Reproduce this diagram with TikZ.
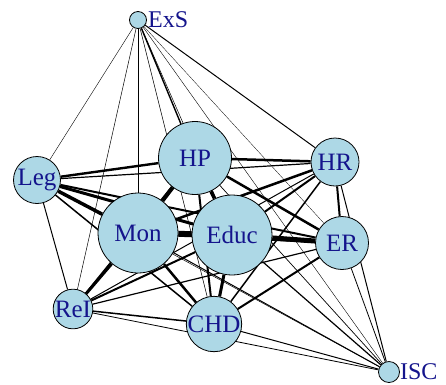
\documentclass[tikz,border=0pt]{standalone}
\usepackage{fontspec}
\setmainfont{Liberation Serif}
\usetikzlibrary{positioning,backgrounds}
\definecolor{nodefill}{RGB}{173,216,230}
\definecolor{labelblue}{RGB}{20,20,140}

\begin{document}
\begin{tikzpicture}[x=1pt, y=-1pt,
    vert/.style={circle, draw, line width=0.8pt, fill=nodefill, inner sep=0pt,
      text=labelblue, font=\fontsize{25}{25}\selectfont},
    lab/.style={inner sep=0pt, text=labelblue, font=\fontsize{24}{24}\selectfont}]

    \useasboundingbox (0,0) rectangle (446,384);

    % small vertices with outside labels
    \node[vert, minimum size=17pt] (exs) at (138,20) {};
    \node[lab, right=1pt of exs] (exslab) {ExS};
    \node[vert, minimum size=21pt] (isc) at (389,372) {};
    \node[lab, right=0pt of isc] (isclab) {ISC};

    % outer ring
    \node[vert, minimum size=47pt] (leg) at (37,180) {Leg};
    \node[vert, minimum size=48pt] (hr) at (335,162) {HR};
    \node[vert, minimum size=53pt] (er) at (342,243) {ER};
    \node[vert, minimum size=38pt] (rei) at (73,309) {ReI};
    \node[vert, minimum size=54pt] (chd) at (214,324) {CHD};

    % core
    \node[vert, minimum size=73pt] (hp) at (195,158) {HP};
    \node[vert, minimum size=80pt] (mon) at (138,233) {Mon};
    \node[vert, minimum size=80pt] (educ) at (232,235) {Educ};

    % weighted ties
    \begin{scope}[on background layer]
    \foreach \a/\b/\w in {exs/leg/0.4, exs/hp/1.4, exs/hr/1.0, exs/mon/0.8,
        exs/educ/0.5, exs/er/0.3, exs/rei/0.5, exs/chd/0.6, exs/isc/0.4,
        leg/hp/2.4, leg/hr/1.2, leg/mon/3.5, leg/educ/3.0, leg/er/2.0,
        leg/chd/1.5, leg/rei/1.0, leg/isc/0.5,
        hp/hr/2.5, hp/mon/4.0, hp/educ/3.5, hp/er/2.5, hp/rei/1.5,
        hp/chd/2.0, hp/isc/0.7,
        hr/mon/2.5, hr/educ/2.0, hr/er/2.0, hr/rei/1.0, hr/chd/1.5, hr/isc/1.0,
        mon/educ/6.0, mon/er/2.5, mon/rei/3.0, mon/chd/2.5, mon/isc/1.0,
        educ/er/5.0, educ/rei/2.0, educ/chd/3.0, educ/isc/1.2,
        er/rei/1.2, er/chd/2.0, er/isc/0.8,
        rei/chd/1.5, rei/isc/0.8, chd/isc/1.0}
      \draw[line width=\w pt] (\a) -- (\b);
    \end{scope}
\end{tikzpicture}
\end{document}
